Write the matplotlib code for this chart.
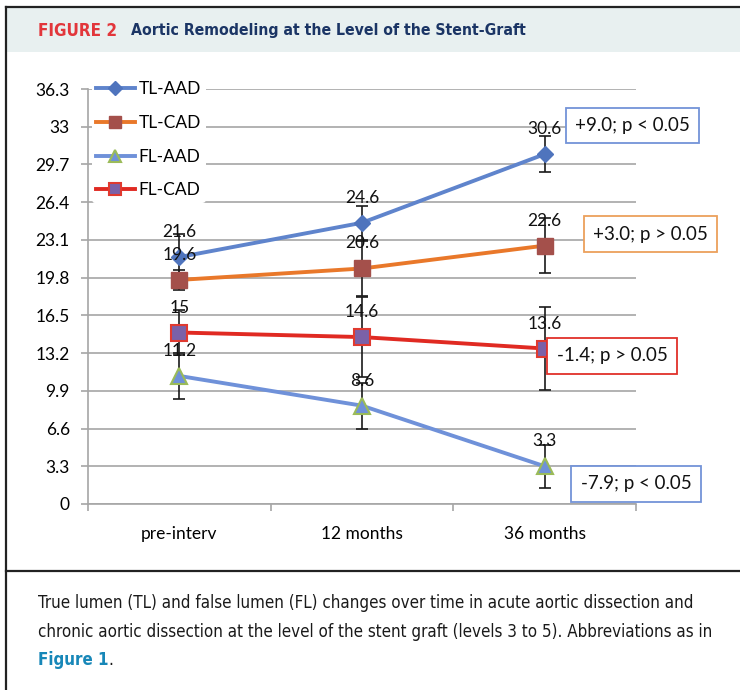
import matplotlib
matplotlib.use('Agg')
import matplotlib.pyplot as plt
from matplotlib.lines import Line2D
from matplotlib.patches import Rectangle
import numpy as np

# ---------------- data ----------------
categories = ['pre-interv', '12 months', '36 months']
series_names = ['TL-AAD', 'TL-CAD', 'FL-AAD', 'FL-CAD']
tl_aad = [21.6, 24.6, 30.6]
tl_cad = [19.6, 20.6, 22.6]
fl_aad = [11.2, 8.6, 3.3]
fl_cad = [15.0, 14.6, 13.6]
tl_aad_err = [2.0, 1.5, 1.6]
tl_cad_err = [0.9, 2.4, 2.4]
fl_aad_err = [2.0, 2.0, 1.9]
fl_cad_err = [2.0, 3.5, 3.6]
ytick_values = [0, 3.3, 6.6, 9.9, 13.2, 16.5, 19.8, 23.1, 26.4, 29.7, 33, 36.3]
ytick_labels = ['0', '3.3', '6.6', '9.9', '13.2', '16.5', '19.8', '23.1',
                '26.4', '29.7', '33', '36.3']
change_texts = ['+9.0; p < 0.05', '+3.0; p > 0.05', '-1.4; p > 0.05', '-7.9; p < 0.05']

W, H = 740, 690
CHART_FONT = ['Lato', 'DejaVu Sans']
NARROW = ['DejaVu Sans']
plt.rcParams['font.family'] = CHART_FONT

fig = plt.figure(figsize=(W / 100, H / 100), dpi=100)
fig.patch.set_facecolor('white')


def fx(px):
    return px / W


def fy(py):
    return 1 - py / H


def fit_width(txt, target_px):
    fig.canvas.draw()
    w = txt.get_window_extent().width
    txt.set_fontsize(txt.get_fontsize() * target_px / w)


# ---------- frame, header, caption ----------
fig.add_artist(Rectangle((fx(7), fy(52)), fx(740 - 7), (52 - 8) / H,
                         transform=fig.transFigure, facecolor='#e8f0f0',
                         edgecolor='none', zorder=0))
fig.add_artist(Line2D([fx(6), 1], [fy(7), fy(7)], transform=fig.transFigure,
                      color='#222222', lw=1.6))
fig.add_artist(Line2D([fx(6), fx(6)], [fy(7), 0], transform=fig.transFigure,
                      color='#222222', lw=1.6))
fig.add_artist(Line2D([fx(6), 1], [fy(571), fy(571)], transform=fig.transFigure,
                      color='#222222', lw=1.6))

t_fig = fig.text(fx(38), fy(31), 'FIGURE 2', color='#e2363b', fontweight='bold',
                 fontsize=10.5, va='center', ha='left', family=NARROW,
                 fontstretch='condensed')
t_title = fig.text(fx(131), fy(31), 'Aortic Remodeling at the Level of the Stent-Graft',
                   color='#1b3565', fontweight='bold', fontsize=12, va='center',
                   ha='left', family=NARROW, fontstretch='condensed')
fit_width(t_fig, 80)
fit_width(t_title, 396)

cap_lines = ['True lumen (TL) and false lumen (FL) changes over time in acute aortic dissection and',
             'chronic aortic dissection at the level of the stent graft (levels 3 to 5). Abbreviations as in']
cap_y = [603, 632]
cap_texts = []
for t, yy in zip(cap_lines, cap_y):
    cap_texts.append(fig.text(fx(38), fy(yy), t, fontsize=11.5, va='center',
                              ha='left', color='#1a1a1a', family=NARROW,
                              fontstretch='condensed'))
fit_width(cap_texts[0], 654)
cap_fs = cap_texts[0].get_fontsize()
cap_texts[1].set_fontsize(cap_fs)
fig_ref = fig.text(fx(38), fy(660), 'Figure 1', fontsize=cap_fs, va='center',
                   ha='left', color='#1787b8', fontweight='bold', family=NARROW,
                   fontstretch='condensed')

# ---------------- chart ----------------
ax = fig.add_axes([fx(88), 1 - 504 / H, (636 - 88) / W, (504 - 89) / H])
x = np.arange(len(categories))
ax.set_xlim(-0.5, len(categories) - 0.5)
ax.set_ylim(0, 36.3)

grid_color = '#a6a6a6'
for s in ['top', 'right']:
    ax.spines[s].set_visible(False)
for s in ['left', 'bottom']:
    ax.spines[s].set_color(grid_color)
    ax.spines[s].set_linewidth(1.2)
ax.set_yticks(ytick_values)
ax.set_yticklabels(ytick_labels, fontsize=12.5)
ax.yaxis.grid(True, color=grid_color, lw=1.2)
ax.set_axisbelow(True)
ax.tick_params(axis='y', length=5, color=grid_color, width=1.2, pad=8)
ax.set_xticks(x)
ax.set_xticklabels(categories, fontsize=12.5)
ax.tick_params(axis='x', length=0, pad=16)
ax.set_xticks(np.arange(len(categories) + 1) - 0.5, minor=True)
ax.tick_params(axis='x', which='minor', length=5, color=grid_color, width=1.2)

series = [
    dict(name='TL-AAD', y=tl_aad, err=tl_aad_err, color='#5f84cc', marker='D',
         ms=8, mfc='#4f74bd', mec='#4f74bd', mew=1),
    dict(name='TL-CAD', y=tl_cad, err=tl_cad_err, color='#e9782a', marker='s',
         ms=11, mfc='#a4504b', mec='#a4504b', mew=1),
    dict(name='FL-AAD', y=fl_aad, err=fl_aad_err, color='#6f91d9', marker='^',
         ms=11, mfc='#6f91d9', mec='#9bbb59', mew=1.5),
    dict(name='FL-CAD', y=fl_cad, err=fl_cad_err, color='#e02a22', marker='s',
         ms=11, mfc='#7b61a8', mec='#e03a30', mew=1.5),
]

handles = []
for s in series:
    ax.errorbar(x, s['y'], yerr=s['err'], fmt='none', ecolor='#1a1a1a',
                elinewidth=1.2, capsize=4, capthick=1.2, zorder=3)
    h, = ax.plot(x, s['y'], color=s['color'], lw=2.8, marker=s['marker'],
                 ms=s['ms'], mfc=s['mfc'], mec=s['mec'], mew=s['mew'],
                 zorder=4, label=s['name'])
    handles.append(h)
    for xi, yi in zip(x, s['y']):
        ax.annotate('{:g}'.format(yi), (xi, yi), xytext=(0, 18),
                    textcoords='offset points', ha='center', va='center',
                    fontsize=12.5, color='#111111', zorder=6)

leg = ax.legend(handles=handles, loc='upper left',
                bbox_to_anchor=(4 / 548, (504 - 77) / 415), frameon=True,
                fontsize=12.5, handlelength=2.2, handletextpad=0.25,
                labelspacing=1.02, borderpad=0.25, borderaxespad=0,
                markerscale=0.85)
leg.get_frame().set_facecolor('white')
leg.get_frame().set_edgecolor('none')
leg.get_frame().set_alpha(1)
leg.set_zorder(8)

box_colors = ['#7393d8', '#eca05c', '#e0302a', '#7393d8']
box_x = [2.48, 2.58, 2.37, 2.50]
box_y = [33.1, 23.6, 12.95, 1.75]
for t, c, bx, by in zip(change_texts, box_colors, box_x, box_y):
    ax.text(bx, by, t, ha='center', va='center', fontsize=13.5, color='#111111',
            clip_on=False, zorder=7,
            bbox=dict(boxstyle='square,pad=0.5', facecolor='white',
                      edgecolor=c, lw=1.3))

# period after "Figure 1" in black
fig.canvas.draw()
bb = fig_ref.get_window_extent()
fig.text(bb.x1 / W, fy(660), '.', fontsize=cap_fs, va='center', ha='left',
         color='#1a1a1a', family=NARROW, fontstretch='condensed')

fig.savefig('out.png', dpi=100)
